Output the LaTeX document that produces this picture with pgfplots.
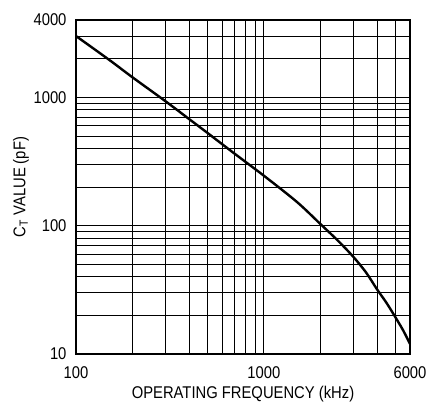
\documentclass[border=0pt]{standalone}
\usepackage{fontspec}
\setmainfont{Liberation Sans}[FakeStretch=0.87]
\usepackage{pgfplots}
\pgfplotsset{compat=1.18}
\begin{document}
\begin{tikzpicture}
\begin{axis}[
  scale only axis,
  width=334pt, height=334pt,
  xmode=log, ymode=log,
  xmin=100, xmax=6000, ymin=10, ymax=4000,
  xtick={100,1000,6000}, xticklabels={100,1000,6000},
  ytick={10,100,1000,4000}, yticklabels={10,100,1000,4000},
  minor xtick={200,300,400,500,600,700,800,900,2000,3000,4000,5000},
  minor ytick={20,30,40,50,60,70,80,90,200,300,400,500,600,700,800,900,2000,3000},
  major tick length=0pt, minor tick length=0pt,
  grid=both,
  major grid style={black, line width=0.7pt},
  minor grid style={black, line width=0.7pt},
  axis line style={black, line width=1.2pt},
  tick label style={font=\fontsize{17}{20}\selectfont},
  xticklabel style={yshift=-9pt},
  yticklabel style={xshift=-6pt},
  label style={font=\fontsize{17}{20}\selectfont},
  xlabel={OPERATING FREQUENCY (kHz)},
  ylabel={C\textsubscript{T} VALUE (pF)},
  xlabel style={at={(axis description cs:0.5,-0.1347)}, anchor=base},
  ylabel style={at={(axis description cs:-0.1647,0.5)}, anchor=center},
]
\addplot[black, line width=2.4pt, smooth] coordinates {
(100,3000) (150,1960) (200,1430) (300,930) (400,677) (500,529) (700,363)
(1000,245) (1500,153) (2000,103) (2500,75.5) (3000,57) (3500,43.2)
(4000,32) (4500,25) (5000,19.5) (5500,15.4) (6000,12)
};
\end{axis}
\pgfresetboundingbox
\path ([shift={(-76pt,-51pt)}]current axis.south west) rectangle ([shift={(20pt,20pt)}]current axis.north east);
\end{tikzpicture}
\end{document}
